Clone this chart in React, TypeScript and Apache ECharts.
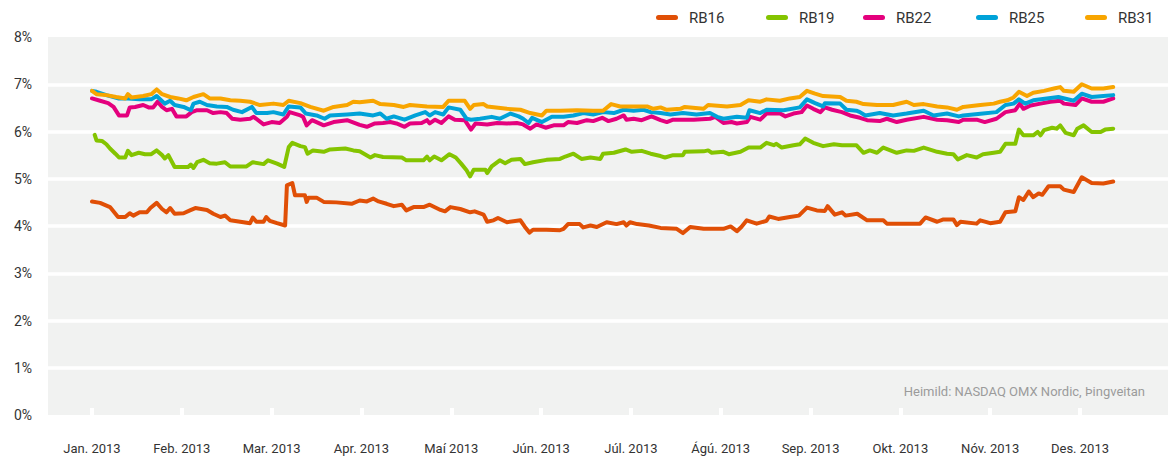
import React, { useEffect, useRef } from "react";
import * as echarts from "echarts";

const monthLabels = ["Jan. 2013","Feb. 2013","Mar. 2013","Apr. 2013","Maí 2013","Jún. 2013","Júl. 2013","Ágú. 2013","Sep. 2013","Okt. 2013","Nóv. 2013","Des. 2013"];
const yTicks = [0,1,2,3,4,5,6,7,8];
const seriesNames = ["RB16","RB19","RB22","RB25","RB31"];
const seriesColors = ["#e04f06","#84c400","#e4007d","#00a2d8","#f8a500"];
const sourceText = "Heimild: NASDAQ OMX Nordic, Þingveitan";

// x = months since 1 Jan 2013, y = yield in %
const rb16 = [[0,4.52],[0.09,4.49],[0.2,4.40],[0.29,4.19],[0.37,4.19],[0.42,4.27],[0.46,4.22],[0.53,4.29],[0.61,4.29],[0.65,4.38],[0.72,4.49],[0.78,4.36],[0.83,4.29],[0.87,4.38],[0.92,4.26],[1.02,4.27],[1.09,4.33],[1.15,4.38],[1.28,4.34],[1.35,4.26],[1.43,4.19],[1.48,4.22],[1.54,4.12],[1.65,4.09],[1.76,4.06],[1.79,4.18],[1.83,4.09],[1.91,4.09],[1.94,4.19],[1.98,4.11],[2.06,4.06],[2.15,4.01],[2.17,4.86],[2.23,4.91],[2.26,4.65],[2.37,4.65],[2.39,4.51],[2.41,4.60],[2.5,4.60],[2.58,4.51],[2.72,4.50],[2.89,4.47],[2.98,4.54],
[3.06,4.52],[3.13,4.58],[3.19,4.52],[3.28,4.47],[3.36,4.42],[3.45,4.45],[3.5,4.33],[3.58,4.40],[3.69,4.40],[3.76,4.45],[3.88,4.34],[3.93,4.31],[3.99,4.40],[4.1,4.36],[4.21,4.29],[4.26,4.31],[4.36,4.24],[4.4,4.09],[4.47,4.12],[4.52,4.17],[4.62,4.08],[4.77,4.12],[4.82,3.98],[4.87,3.86],[4.91,3.92],[5.06,3.92],[5.21,3.91],[5.25,3.94],[5.30,4.04],[5.43,4.04],[5.47,3.97],[5.55,4.01],[5.62,3.98],[5.73,4.08],[5.84,4.04],[5.92,4.08],[5.95,4.01],[5.99,4.08],[6.07,4.04],[6.2,4.01],[6.33,3.96],
[6.51,3.94],[6.58,3.85],[6.66,3.98],[6.81,3.94],[7.03,3.94],[7.11,3.99],[7.18,3.89],[7.23,3.98],[7.29,4.12],[7.40,4.05],[7.51,4.11],[7.54,4.20],[7.64,4.15],[7.77,4.19],[7.87,4.22],[7.96,4.39],[8.07,4.33],[8.16,4.32],[8.19,4.42],[8.27,4.24],[8.35,4.29],[8.39,4.22],[8.52,4.26],[8.63,4.12],[8.81,4.12],[8.85,4.05],[9.22,4.05],[9.28,4.18],[9.41,4.09],[9.48,4.14],[9.59,4.14],[9.63,4.02],[9.67,4.09],[9.85,4.05],[9.89,4.12],[10.0,4.06],[10.11,4.09],[10.17,4.29],[10.28,4.31],[10.32,4.61],[10.37,4.55],[10.43,4.73],[10.48,4.61],[10.54,4.69],[10.58,4.66],[10.65,4.84],[10.78,4.84],[10.82,4.77],[10.93,4.72],[11.02,5.03],[11.13,4.91],[11.26,4.90],[11.37,4.94]];

const rb19 = [[0.03,5.93],[0.05,5.81],[0.11,5.80],[0.16,5.73],[0.2,5.64],[0.26,5.53],[0.30,5.45],[0.37,5.45],[0.40,5.59],[0.44,5.50],[0.52,5.55],[0.59,5.52],[0.66,5.52],[0.72,5.60],[0.78,5.50],[0.81,5.43],[0.85,5.50],[0.92,5.25],[1.07,5.25],[1.10,5.30],[1.13,5.23],[1.17,5.35],[1.24,5.40],[1.31,5.33],[1.39,5.32],[1.48,5.35],[1.54,5.26],[1.72,5.26],[1.79,5.35],[1.91,5.31],[1.96,5.39],[2.06,5.32],[2.14,5.25],[2.19,5.67],[2.23,5.76],[2.32,5.69],[2.37,5.67],[2.40,5.53],[2.46,5.60],[2.58,5.57],[2.65,5.62],[2.82,5.64],[2.91,5.60],[2.98,5.58],
[3.1,5.45],[3.15,5.50],[3.24,5.46],[3.45,5.45],[3.5,5.39],[3.69,5.39],[3.73,5.47],[3.76,5.39],[3.81,5.47],[3.89,5.39],[3.98,5.52],[4.05,5.45],[4.11,5.32],[4.17,5.18],[4.21,5.05],[4.25,5.19],[4.38,5.19],[4.40,5.12],[4.45,5.26],[4.54,5.39],[4.6,5.33],[4.67,5.40],[4.77,5.42],[4.82,5.31],[4.91,5.35],[5.06,5.40],[5.21,5.42],[5.27,5.47],[5.36,5.53],[5.45,5.42],[5.55,5.45],[5.66,5.42],[5.69,5.53],[5.81,5.55],[5.94,5.62],[6.01,5.57],[6.12,5.59],[6.22,5.53],[6.33,5.48],
[6.38,5.45],[6.47,5.50],[6.58,5.50],[6.60,5.57],[6.81,5.58],[6.86,5.60],[6.90,5.55],[7.03,5.57],[7.09,5.52],[7.22,5.57],[7.31,5.66],[7.44,5.66],[7.51,5.76],[7.59,5.71],[7.62,5.74],[7.68,5.66],[7.81,5.71],[7.88,5.73],[7.94,5.85],[8.03,5.76],[8.14,5.69],[8.26,5.73],[8.35,5.71],[8.51,5.71],[8.59,5.55],[8.66,5.60],[8.74,5.55],[8.81,5.66],[8.96,5.55],[9.07,5.60],[9.15,5.59],[9.26,5.66],[9.41,5.57],[9.52,5.53],[9.59,5.52],[9.64,5.41],[9.74,5.50],[9.85,5.45],[9.92,5.52],[10.04,5.55],[10.11,5.57],[10.17,5.74],[10.28,5.74],[10.32,6.04],[10.37,5.92],[10.48,5.92],[10.53,5.99],[10.56,5.92],[10.60,6.03],[10.69,6.08],[10.74,6.06],[10.78,6.13],[10.84,5.97],[10.93,5.92],[10.97,6.06],[11.04,6.13],[11.13,5.99],[11.23,5.99],[11.28,6.04],[11.37,6.06]];

const rb22 = [[0,6.70],[0.09,6.65],[0.18,6.60],[0.24,6.52],[0.30,6.34],[0.39,6.34],[0.42,6.51],[0.48,6.52],[0.57,6.56],[0.63,6.51],[0.68,6.51],[0.73,6.63],[0.78,6.52],[0.83,6.45],[0.89,6.48],[0.94,6.32],[1.05,6.32],[1.11,6.41],[1.17,6.45],[1.28,6.45],[1.35,6.39],[1.43,6.41],[1.50,6.39],[1.56,6.27],[1.65,6.25],[1.76,6.27],[1.80,6.31],[1.91,6.15],[2.0,6.20],[2.09,6.18],[2.17,6.31],[2.20,6.41],[2.32,6.34],[2.35,6.31],[2.39,6.13],[2.45,6.24],[2.58,6.13],[2.69,6.20],[2.84,6.24],[2.98,6.14],
[3.06,6.10],[3.15,6.17],[3.24,6.18],[3.32,6.20],[3.39,6.17],[3.48,6.10],[3.54,6.17],[3.67,6.18],[3.73,6.24],[3.76,6.17],[3.82,6.25],[3.89,6.18],[3.97,6.32],[4.04,6.25],[4.15,6.24],[4.22,6.04],[4.27,6.17],[4.40,6.15],[4.51,6.18],[4.62,6.17],[4.73,6.18],[4.80,6.15],[4.88,6.06],[4.95,6.15],[5.05,6.08],[5.14,6.13],[5.25,6.13],[5.30,6.20],[5.40,6.18],[5.51,6.24],[5.58,6.22],[5.68,6.29],[5.75,6.22],[5.84,6.27],[5.92,6.34],[5.95,6.25],[6.03,6.27],[6.12,6.24],[6.23,6.32],[6.33,6.24],
[6.40,6.20],[6.47,6.25],[6.70,6.25],[6.88,6.27],[6.94,6.31],[7.03,6.18],[7.12,6.20],[7.18,6.17],[7.29,6.20],[7.33,6.31],[7.44,6.25],[7.51,6.38],[7.66,6.38],[7.72,6.32],[7.81,6.38],[7.90,6.41],[7.96,6.55],[8.03,6.48],[8.11,6.41],[8.16,6.51],[8.24,6.46],[8.35,6.41],[8.44,6.34],[8.55,6.29],[8.63,6.24],[8.77,6.22],[8.85,6.27],[8.96,6.20],[9.07,6.25],[9.26,6.31],[9.41,6.25],[9.52,6.24],[9.65,6.20],[9.70,6.25],[9.85,6.25],[9.94,6.20],[10.07,6.27],[10.17,6.41],[10.28,6.45],[10.33,6.59],[10.37,6.48],[10.45,6.55],[10.56,6.59],[10.67,6.63],[10.78,6.65],[10.82,6.59],[10.95,6.56],[11.02,6.70],[11.13,6.63],[11.26,6.63],[11.37,6.70]];

const rb25 = [[0,6.86],[0.05,6.84],[0.16,6.77],[0.29,6.70],[0.40,6.70],[0.53,6.68],[0.66,6.68],[0.72,6.75],[0.81,6.59],[0.87,6.65],[0.92,6.56],[1.02,6.52],[1.10,6.45],[1.13,6.59],[1.20,6.63],[1.28,6.56],[1.39,6.53],[1.50,6.52],[1.57,6.46],[1.67,6.41],[1.78,6.52],[1.83,6.39],[1.95,6.39],[2.02,6.41],[2.13,6.36],[2.19,6.53],[2.32,6.51],[2.38,6.38],[2.50,6.34],[2.59,6.27],[2.65,6.34],[2.84,6.36],[2.98,6.38],
[3.13,6.34],[3.21,6.38],[3.28,6.27],[3.36,6.32],[3.48,6.25],[3.60,6.34],[3.71,6.41],[3.76,6.34],[3.82,6.41],[3.91,6.36],[3.97,6.51],[4.10,6.46],[4.17,6.27],[4.22,6.25],[4.32,6.27],[4.45,6.31],[4.54,6.27],[4.66,6.38],[4.75,6.32],[4.80,6.27],[4.86,6.18],[4.90,6.29],[5.01,6.20],[5.12,6.31],[5.25,6.31],[5.36,6.34],[5.47,6.39],[5.58,6.36],[5.69,6.41],[5.81,6.39],[5.92,6.46],[6.03,6.44],[6.14,6.46],[6.22,6.41],[6.33,6.39],
[6.44,6.36],[6.58,6.39],[6.73,6.36],[6.88,6.39],[6.96,6.31],[7.03,6.27],[7.18,6.31],[7.29,6.29],[7.32,6.45],[7.44,6.39],[7.51,6.46],[7.70,6.45],[7.88,6.51],[7.96,6.68],[8.05,6.60],[8.14,6.53],[8.16,6.60],[8.33,6.59],[8.40,6.46],[8.51,6.44],[8.55,6.41],[8.61,6.34],[8.77,6.39],[8.92,6.34],[9.07,6.38],[9.26,6.44],[9.37,6.34],[9.52,6.38],[9.65,6.32],[9.70,6.34],[9.92,6.38],[10.07,6.41],[10.17,6.56],[10.26,6.59],[10.32,6.68],[10.39,6.59],[10.48,6.66],[10.63,6.70],[10.76,6.73],[10.93,6.65],[11.02,6.80],[11.13,6.73],[11.26,6.75],[11.37,6.77]];

const rb31 = [[0,6.86],[0.05,6.79],[0.16,6.77],[0.27,6.73],[0.37,6.70],[0.40,6.79],[0.44,6.72],[0.57,6.75],[0.66,6.79],[0.72,6.89],[0.78,6.79],[0.87,6.73],[0.96,6.70],[1.05,6.66],[1.13,6.73],[1.24,6.79],[1.31,6.70],[1.43,6.70],[1.54,6.66],[1.65,6.65],[1.76,6.63],[1.87,6.56],[2.02,6.59],[2.13,6.56],[2.19,6.65],[2.32,6.60],[2.43,6.52],[2.58,6.44],[2.69,6.52],[2.84,6.56],[2.91,6.63],[2.98,6.62],
[3.13,6.65],[3.21,6.58],[3.36,6.56],[3.47,6.52],[3.54,6.56],[3.73,6.53],[3.91,6.52],[3.97,6.65],[4.15,6.65],[4.21,6.48],[4.25,6.56],[4.36,6.58],[4.40,6.53],[4.62,6.48],[4.77,6.46],[4.88,6.39],[5.01,6.34],[5.06,6.44],[5.21,6.44],[5.40,6.45],[5.58,6.44],[5.69,6.44],[5.78,6.58],[5.88,6.53],[6.03,6.53],[6.18,6.53],[6.25,6.48],[6.33,6.51],
[6.40,6.46],[6.55,6.48],[6.60,6.52],[6.81,6.48],[6.86,6.56],[7.07,6.53],[7.22,6.56],[7.31,6.66],[7.44,6.63],[7.51,6.68],[7.66,6.65],[7.77,6.70],[7.88,6.73],[7.96,6.86],[8.05,6.80],[8.14,6.75],[8.33,6.73],[8.40,6.65],[8.51,6.63],[8.59,6.58],[8.74,6.56],[8.92,6.56],[9.07,6.63],[9.15,6.56],[9.26,6.58],[9.41,6.53],[9.52,6.51],[9.63,6.46],[9.70,6.52],[9.89,6.56],[10.04,6.59],[10.11,6.63],[10.19,6.66],[10.26,6.72],[10.32,6.84],[10.41,6.75],[10.48,6.82],[10.60,6.86],[10.71,6.91],[10.78,6.94],[10.82,6.86],[10.93,6.84],[11.02,7.0],[11.13,6.91],[11.26,6.91],[11.37,6.94]];

const seriesData = [rb16, rb19, rb22, rb25, rb31];
const legendLeft = [651, 761, 858, 971, 1080];

const FONT = "Roboto, 'Noto Sans', sans-serif";
const pill = "path://M2.5,0 L19.5,0 A2.5,2.5 0 0 1 19.5,5 L2.5,5 A2.5,2.5 0 0 1 2.5,0 Z";

export default function App() {
  const ref = useRef<HTMLDivElement>(null);
  useEffect(() => {
    document.body.style.margin = "0";
    const chart = echarts.init(ref.current!, null, { renderer: "svg" });
    const monthTicks = monthLabels.map((_, i) => i);
    chart.setOption({
      animation: false,
      textStyle: { fontFamily: FONT },
      grid: { left: 48, right: 0, top: 37, bottom: 45, show: true, backgroundColor: "#f1f2f1", borderWidth: 0 },
      legend: seriesNames.map((n, i) => ({
        data: [n],
        left: legendLeft[i],
        top: 5,
        icon: pill,
        itemWidth: 22,
        itemHeight: 5,
        selectedMode: false,
        textStyle: { fontSize: 15, color: "#333", fontFamily: FONT, padding: [0, 0, 0, 6] },
      })),
      xAxis: {
        type: "value",
        min: -0.49,
        max: 11.98,
        axisLine: { show: false },
        splitLine: { show: false },
        axisTick: { show: true, inside: true, length: 7, customValues: monthTicks, lineStyle: { color: "#ffffff", width: 4 } },
        axisLabel: { customValues: monthTicks, formatter: (v: number) => monthLabels[Math.round(v)] ?? "", fontSize: 13, color: "#333", margin: 27, fontFamily: FONT },
      },
      yAxis: {
        type: "value",
        min: yTicks[0],
        max: yTicks[yTicks.length - 1],
        interval: 1,
        axisLine: { show: false },
        axisTick: { show: false },
        splitLine: { showMinLine: false, showMaxLine: false, lineStyle: { color: "#ffffff", width: 3.5 } },
        axisLabel: { formatter: (v: number) => v + "%", fontSize: 14, color: "#333", margin: 16, fontFamily: FONT },
      },
      graphic: [
        { type: "text", right: 23, top: 385, style: { text: sourceText, fill: "#9b9b9b", fontSize: 13, fontFamily: FONT } },
      ],
      series: seriesNames.map((n, i) => ({
        name: n,
        type: "line",
        data: seriesData[i],
        showSymbol: false,
        color: seriesColors[i],
        lineStyle: { width: 4, color: seriesColors[i], cap: "round", join: "round" },
      })),
    });
    return () => chart.dispose();
  }, []);
  return <div ref={ref} style={{ width: 1168, height: 460 }} />;
}
